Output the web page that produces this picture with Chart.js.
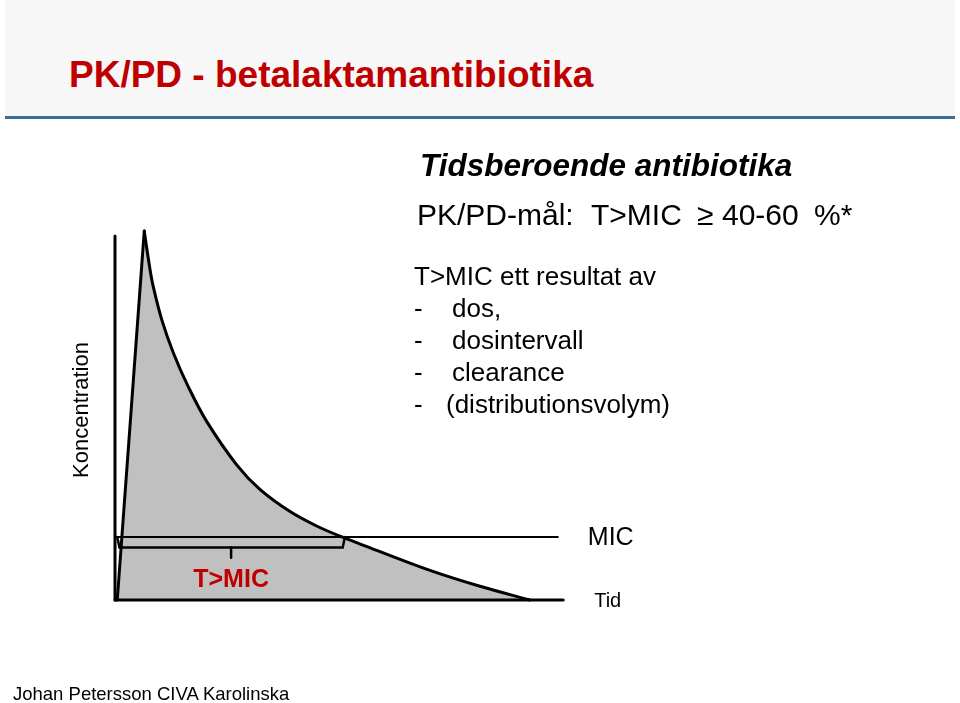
<!DOCTYPE html>
<html>
<head>
<meta charset="utf-8">
<script src="https://cdn.jsdelivr.net/npm/chart.js@4"></script>
<style>
  body { margin: 0; width: 960px; height: 703px; overflow: hidden; background: #fff;
         font-family: "Liberation Sans", Arial, sans-serif; }
  #header { position: absolute; left: 5px; top: 0; width: 950px; height: 116px; background: #f7f7f7; }
  #rule { position: absolute; left: 5px; top: 116px; width: 950px; height: 3px; background: #3f6d9b; }
  #title { position: absolute; left: 69px; top: 56px; font-size: 37px; line-height: 37px;
           font-weight: bold; color: #c00000; white-space: nowrap; }
  #chart { position: absolute; left: 0; top: 0; }
  .txt { position: absolute; white-space: nowrap; color: #000; }
  #sub { left: 420px; top: 150px; font-size: 31.5px; line-height: 31.5px; font-weight: bold; font-style: italic; }
  #goal { left: 0; top: 200px; font-size: 30px; line-height: 30px; }
  #goal span { position: absolute; top: 0; }
  #list { left: 414px; top: 260px; font-size: 26px; line-height: 32px; }
  #list .d { display: inline-block; width: 38px; }
  #list .p { display: inline-block; width: 32px; }
  #foot { left: 13px; top: 685px; font-size: 18.5px; line-height: 18.5px; }
</style>
</head>
<body>
<div id="header"></div>
<div id="rule"></div>
<div id="title">PK/PD - betalaktamantibiotika</div>
<canvas id="chart" width="960" height="703"></canvas>
<div class="txt" id="sub">Tidsberoende antibiotika</div>
<div class="txt" id="goal">
  <span style="left:417px">PK/PD-mål:</span>
  <span style="left:591px">T&gt;MIC</span>
  <span style="left:697px">&ge;</span>
  <span style="left:722px">40-60</span>
  <span style="left:814px">%*</span>
</div>
<div class="txt" id="list">
  <div>T&gt;MIC ett resultat av</div>
  <div><span class="d">-</span>dos,</div>
  <div><span class="d">-</span>dosintervall</div>
  <div><span class="d">-</span>clearance</div>
  <div><span class="p">-</span>(distributionsvolym)</div>
</div>
<div class="txt" id="foot">Johan Petersson CIVA Karolinska</div>

<script>
// concentration curve (time 0-100, concentration 0-100)
const riseTime = [0.5, 6.5];
const riseConc = [0, 99.7];
const decayTime = [6.5, 7.8, 8.5, 10.4, 13.0, 16.3, 20.4, 27.0, 32.2, 38.9, 44.8, 50.7, 56.7, 70.0, 81.1, 92.2];
const decayConc = [99.7, 89.2, 84.7, 75.7, 66.7, 57.6, 48.2, 36.6, 29.9, 23.9, 20.0, 16.9, 14.1, 8.0, 3.7, 0];
// the rising fill is closed a little right of the peak so it overlaps the decay fill
const riseFillFoot = 8.0;

const mic = 17.0;
const micEnd = 98.4;
const timeAxisEnd = 99.6;
const concAxisTop = 98.4;

// T>MIC bracket under the MIC line
const bracketTime = [0.5, 1.0, 50.6, 51.1];
const bracketConc = [17.0, 14.2, 14.2, 17.0];
const tickTime = [25.8, 25.8];
const tickConc = [14.2, 11.4];

function pts(xs, ys) {
    return xs.map((x, i) => ({ x: x, y: ys[i] }));
}

function lineSet(data, width) {
    return {
        data: data,
        borderColor: '#000',
        borderWidth: width,
        borderCapStyle: 'round',
        pointRadius: 0,
        fill: false,
        tension: 0,
        clip: false
    };
}

const labelsPlugin = {
    id: 'labels',
    afterDraw(chart) {
        const ctx = chart.ctx;
        const xs = chart.scales.x;
        const ys = chart.scales.y;
        ctx.save();
        ctx.fillStyle = '#000';
        ctx.textBaseline = 'middle';
        ctx.textAlign = 'left';
        ctx.font = '25px "Liberation Sans", Arial, sans-serif';
        ctx.fillText('MIC', xs.getPixelForValue(micEnd) + 30, ys.getPixelForValue(mic) + 1);
        ctx.font = '20px "Liberation Sans", Arial, sans-serif';
        ctx.fillText('Tid', xs.getPixelForValue(timeAxisEnd) + 31, ys.getPixelForValue(0) + 1);

        ctx.fillStyle = '#c00000';
        ctx.textAlign = 'center';
        ctx.font = 'bold 25px "Liberation Sans", Arial, sans-serif';
        ctx.fillText('T>MIC', xs.getPixelForValue(tickTime[0]), ys.getPixelForValue(5.4));

        ctx.fillStyle = '#000';
        ctx.translate(xs.left - 27, (ys.top + ys.bottom) / 2 - 5);
        ctx.rotate(-Math.PI / 2);
        ctx.textBaseline = 'alphabetic';
        ctx.textAlign = 'center';
        ctx.font = '22px "Liberation Sans", Arial, sans-serif';
        ctx.fillText('Koncentration', 0, 0);
        ctx.restore();
    }
};

new Chart(document.getElementById('chart'), {
    type: 'line',
    data: {
        datasets: [
            lineSet(pts([0, 0], [0, concAxisTop]), 3),
            lineSet(pts([0, timeAxisEnd], [0, 0]), 3),
            lineSet(pts([0, micEnd], [mic, mic]), 2),
            lineSet(pts(bracketTime, bracketConc), 2.5),
            lineSet(pts(tickTime, tickConc), 2.5),
            lineSet(pts(riseTime, riseConc), 3),
            {
                data: pts(decayTime, decayConc),
                borderColor: '#000',
                borderWidth: 3,
                borderCapStyle: 'round',
                backgroundColor: '#c0c0c0',
                fill: 'origin',
                pointRadius: 0,
                tension: 0.35,
                clip: false
            },
            {
                data: pts(riseTime.concat([riseFillFoot]), riseConc.concat([0])),
                borderWidth: 0,
                backgroundColor: '#c0c0c0',
                fill: 'origin',
                pointRadius: 0,
                tension: 0,
                clip: false
            }
        ]
    },
    options: {
        responsive: false,
        animation: false,
        layout: { padding: { left: 115, right: 395, top: 230, bottom: 103 } },
        plugins: { legend: { display: false }, tooltip: { enabled: false } },
        scales: {
            x: { type: 'linear', min: 0, max: 100, display: false },
            y: { min: 0, max: 100, display: false }
        }
    },
    plugins: [labelsPlugin]
});
</script>
</body>
</html>
